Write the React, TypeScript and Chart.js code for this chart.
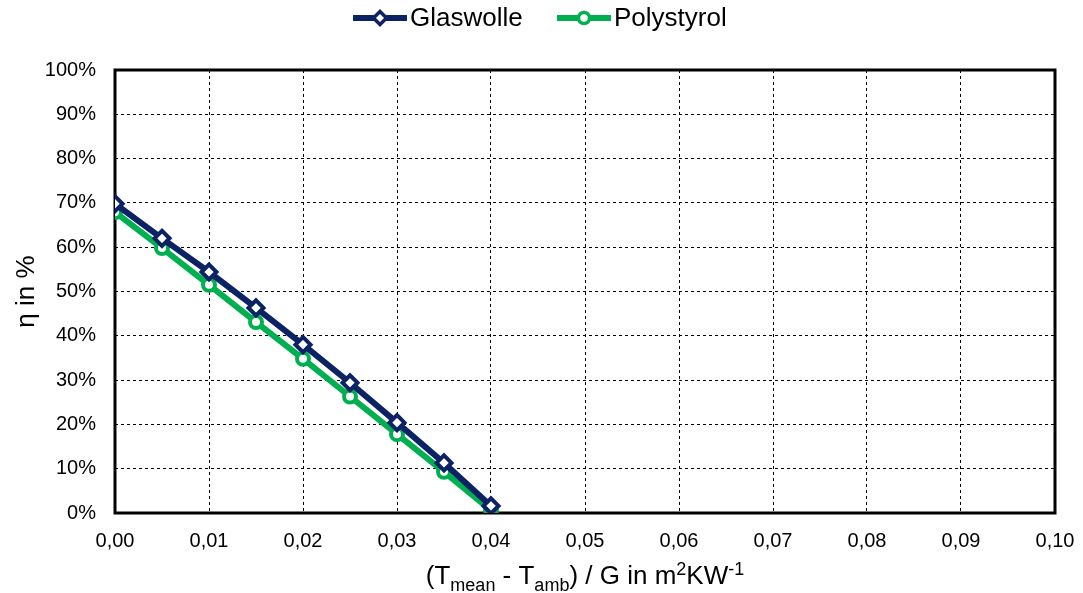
import React, { useEffect, useRef } from "react";
import { Chart, registerables } from "chart.js";
Chart.register(...registerables);

const xValues = [0, 0.005, 0.01, 0.015, 0.02, 0.025, 0.03, 0.035, 0.04];
const glaswolle = [69.8, 62.0, 54.4, 46.3, 38.0, 29.4, 20.4, 11.3, 1.6];
const polystyrol = [67.9, 59.8, 51.5, 43.1, 34.8, 26.3, 17.8, 9.3, 0.6];
const seriesNames = ["Glaswolle", "Polystyrol"];
const yTitle = "η in %";

const NAVY = "#0b2265";
const GREEN = "#00b050";
const FONT = "'Liberation Sans', Arial, sans-serif";

function drawMarker(ctx: CanvasRenderingContext2D, kind: string, x: number, y: number, color: string) {
  ctx.save();
  ctx.fillStyle = "#fff";
  ctx.strokeStyle = color;
  ctx.lineWidth = 3.5;
  ctx.beginPath();
  if (kind === "diamond") {
    const r = 6.5;
    ctx.moveTo(x, y - r);
    ctx.lineTo(x + r, y);
    ctx.lineTo(x, y + r);
    ctx.lineTo(x - r, y);
    ctx.closePath();
  } else {
    ctx.arc(x, y, 5.5, 0, Math.PI * 2);
  }
  ctx.fill();
  ctx.stroke();
  ctx.restore();
}

const decorPlugin = {
  id: "decor",
  beforeDatasetsDraw(chart: any) {
    const { ctx, chartArea: a } = chart;
    ctx.save();
    ctx.strokeStyle = "#000";
    ctx.lineWidth = 3;
    ctx.strokeRect(a.left, a.top, a.right - a.left, a.bottom - a.top);
    ctx.restore();
  },
  afterDraw(chart: any) {
    const { ctx, chartArea: a } = chart;
    ctx.save();
    // legend
    const items = [
      { name: seriesNames[0], color: NAVY, kind: "diamond", x0: 353 },
      { name: seriesNames[1], color: GREEN, kind: "circle", x0: 557 },
    ];
    ctx.font = `26px ${FONT}`;
    ctx.textBaseline = "middle";
    items.forEach((it) => {
      const y = 18;
      ctx.strokeStyle = it.color;
      ctx.lineWidth = 6;
      ctx.beginPath();
      ctx.moveTo(it.x0, y);
      ctx.lineTo(it.x0 + 54, y);
      ctx.stroke();
      drawMarker(ctx, it.kind, it.x0 + 27, y, it.color);
      ctx.fillStyle = "#000";
      ctx.textAlign = "left";
      ctx.fillText(it.name, it.x0 + 57, y + 1);
    });
    // y title
    ctx.save();
    ctx.translate(27, (a.top + a.bottom) / 2);
    ctx.rotate(-Math.PI / 2);
    ctx.textAlign = "center";
    ctx.textBaseline = "middle";
    ctx.font = `26px ${FONT}`;
    ctx.fillStyle = "#000";
    ctx.fillText(yTitle, 0, 0);
    ctx.restore();
    // x title with sub/superscripts
    const parts: { t: string; s: "n" | "sub" | "sup" }[] = [
      { t: "(T", s: "n" },
      { t: "mean", s: "sub" },
      { t: " - T", s: "n" },
      { t: "amb", s: "sub" },
      { t: ") / G in m", s: "n" },
      { t: "2", s: "sup" },
      { t: "KW", s: "n" },
      { t: "-1", s: "sup" },
    ];
    const big = `26px ${FONT}`;
    const small = `18px ${FONT}`;
    let total = 0;
    parts.forEach((p) => {
      ctx.font = p.s === "n" ? big : small;
      total += ctx.measureText(p.t).width;
    });
    let x = (a.left + a.right) / 2 - total / 2;
    const baseY = 584;
    ctx.textAlign = "left";
    ctx.textBaseline = "alphabetic";
    ctx.fillStyle = "#000";
    parts.forEach((p) => {
      ctx.font = p.s === "n" ? big : small;
      const dy = p.s === "sub" ? 7 : p.s === "sup" ? -9 : 0;
      ctx.fillText(p.t, x, baseY + dy);
      x += ctx.measureText(p.t).width;
    });
    ctx.restore();
  },
};

export default function App() {
  const ref = useRef<HTMLCanvasElement | null>(null);
  useEffect(() => {
    if (!ref.current) return;
    const mk = (vals: number[]) => xValues.map((x, i) => ({ x, y: vals[i] }));
    const chart = new Chart(ref.current, {
      type: "line",
      data: {
        datasets: [
          {
            label: seriesNames[0],
            data: mk(glaswolle),
            borderColor: NAVY,
            backgroundColor: "#fff",
            borderWidth: 6,
            pointStyle: "rectRot",
            pointRadius: 7.5,
            pointBorderWidth: 4,
            pointBackgroundColor: "#fff",
            pointBorderColor: NAVY,
          },
          {
            label: seriesNames[1],
            data: mk(polystyrol),
            borderColor: GREEN,
            backgroundColor: "#fff",
            borderWidth: 6,
            pointStyle: "circle",
            pointRadius: 6,
            pointBorderWidth: 4,
            pointBackgroundColor: "#fff",
            pointBorderColor: GREEN,
          },
        ],
      },
      options: {
        animation: false,
        responsive: false,
        maintainAspectRatio: false,
        layout: { padding: { top: 70, right: 28, left: 0, bottom: 0 } },
        plugins: { legend: { display: false }, tooltip: { enabled: false }, title: { display: false } },
        scales: {
          x: {
            type: "linear",
            min: 0,
            max: 0.1,
            ticks: {
              stepSize: 0.01,
              padding: 16,
              color: "#000",
              font: { family: FONT, size: 20 },
              callback: (v: any) => Number(v).toFixed(2).replace(".", ","),
            },
            grid: { color: "#000", lineWidth: 1, drawTicks: false },
            border: { display: false, dash: [3, 3] },
            afterFit: (s: any) => {
              s.height = 80;
              s.paddingLeft = 0;
              s.paddingRight = 0;
            },
          },
          y: {
            min: 0,
            max: 100,
            ticks: {
              stepSize: 10,
              padding: 19,
              color: "#000",
              font: { family: FONT, size: 20 },
              callback: (v: any) => `${v}%`,
            },
            grid: { color: "#000", lineWidth: 1, drawTicks: false },
            border: { display: false, dash: [3, 3] },
            afterFit: (s: any) => {
              s.width = 115;
              s.paddingTop = 0;
              s.paddingBottom = 0;
            },
          },
        },
      } as any,
      plugins: [decorPlugin],
    });
    return () => chart.destroy();
  }, []);
  return (
    <div style={{ position: "absolute", left: 0, top: 0, width: 1083, height: 593, background: "#fff" }}>
      <canvas ref={ref} width={1083} height={593} style={{ display: "block" }} />
    </div>
  );
}
